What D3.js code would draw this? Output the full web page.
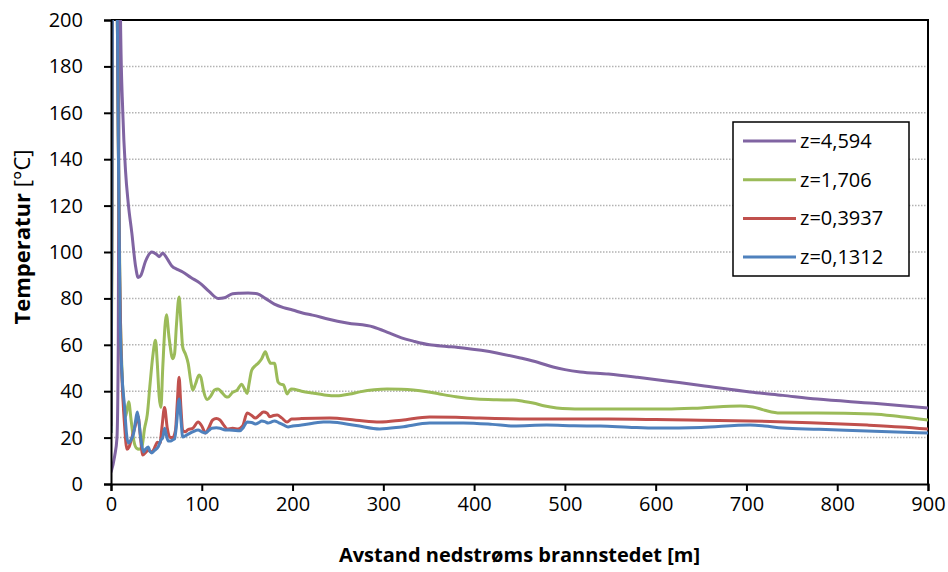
<!DOCTYPE html>
<html>
<head>
<meta charset="utf-8">
<script src="https://cdn.jsdelivr.net/npm/d3@7/dist/d3.min.js"></script>
<style>
  html, body { margin: 0; padding: 0; background: #fff; }
  svg { display: block; font-family: "Open Sans", "Liberation Sans", sans-serif; }
</style>
</head>
<body>
<svg id="chart" width="948" height="572"></svg>
<script>
// Temperature downstream of the fire site, at four heights z [m]
const seriesNames = ["z=4,594", "z=1,706", "z=0,3937", "z=0,1312"];
const seriesColors = ["#8064A2", "#9BBB59", "#C0504D", "#4F81BD"];

const xTicks = [0, 100, 200, 300, 400, 500, 600, 700, 800, 900];
const yTicks = [0, 20, 40, 60, 80, 100, 120, 140, 160, 180, 200];

// [distance m, temperature °C]
const tempZ4594 = [
  [0,5],[4,12],[6.6,20],[8,60],[9,200],[9.6,240],[10.5,200],[13,160],[16,135],[19,121],
  [23,108],[27,94],[30,89],[33,90],[38,96],[45,100],[50,99],[53,98],[57,99.5],[62,97],
  [67,94],[73,92.5],[79,91.4],[88,89],[98,86.6],[108,83],[118,80],[125,80.3],[134,82],
  [142,82.2],[151,82.3],[161,82],[170,80],[180,77.5],[190,76],[200,75],[212,73.6],
  [222,72.8],[240,71],[260,69.4],[289,67.7],[307,65],[320,63],[333,61.6],[351,60],
  [370,59.3],[388,58.6],[425,56.5],[451,54.3],[470,52.5],[487,50.4],[500,49.3],
  [517,48.3],[548,47.4],[580,46],[612,44.4],[650,42.5],[704,39.7],[740,38.2],
  [778,36.6],[840,34.8],[900,32.8]
];
const tempZ1706 = [
  [0,22],[1,100],[2,240],[6,240],[8,150],[10,80],[12,50],[14,34],[16,29],[19.5,35.5],
  [22,28],[25,19],[28,15.5],[31,15],[34,16],[37,24],[40,30],[43,43],[46,55],[49,62],
  [51,52],[53,38],[55,33],[57,50],[61,73],[64,63],[68,54],[70,56],[72,68],[75,80.6],
  [77,70],[79,59],[82,56],[85,52],[88,44],[90,40.5],[93,43],[97,47],[99,46],[102,40],
  [106,36.4],[110,38],[114,40.5],[118,41],[122,39.5],[126,37.8],[129,37.5],[134,39.5],
  [139,40.5],[144,43],[147,41],[150,39],[152,43],[155,49],[159,51],[162,52],[166,54],
  [170,57],[173,54],[176,52],[180,52],[184,44],[187,43],[190,42.7],[194,38.8],
  [197,40.5],[199,40.9],[210,40],[222,39.2],[235,38.4],[249,38],[263,38.8],[274,39.7],
  [290,40.6],[304,40.9],[320,40.8],[333,40.5],[348,39.8],[362,38.8],[380,37.6],
  [403,36.6],[425,36.3],[443,36.2],[455,35.6],[465,34.9],[478,33.6],[491,32.8],
  [505,32.4],[517,32.3],[548,32.3],[580,32.3],[612,32.3],[650,32.8],[693,33.6],
  [707,33.2],[720,31.8],[737,30.6],[778,30.6],[839,30.2],[870,29],[900,27.6]
];
const tempZ03937 = [
  [0,25],[1,120],[2,240],[6,240],[8,150],[9.5,90],[11,58],[13,38],[15,25],[17.6,15],
  [20,16],[23,20],[26,24],[28,27],[30,29],[32,22],[35,12.5],[38,13.5],[41,14.6],
  [44,13.8],[46,14.2],[49,16.5],[51,18],[54,17.6],[56,24],[59,33],[62,24],[65,20],
  [68,20],[71,23],[73,35],[75,46],[77,33],[79,23],[82,22.5],[85,23.5],[90,24],
  [96,26.7],[100,25],[104,22],[108,24.5],[112,27.6],[116,28.2],[120,27.6],[124,25.5],
  [128,23.7],[134,24],[140,23.7],[145,25],[150,30.6],[155,29.5],[159,28.4],[163,29.5],
  [168,31],[172,30.5],[175,29],[179,29.5],[183,29.7],[188,28.5],[194,26.7],[199,28],
  [210,28.2],[241,28.4],[270,27.5],[296,26.7],[320,27.5],[351,28.9],[380,28.8],
  [406,28.4],[462,28],[517,28],[548,28],[600,27.8],[650,27.5],[704,27.2],[770,26.4],
  [833,25.4],[870,24.6],[900,23.7]
];
const tempZ01312 = [
  [0,22],[1,120],[2,240],[6,240],[8,150],[10,72],[12,48],[15,33],[17,22],[19,17.7],
  [22,19],[25,22],[27,27],[29,31],[31,26],[33,19],[36,13.8],[38,15],[41,16],[43,14],
  [45,13.4],[48,14.5],[52,16],[55,19],[57,20],[59,24],[61,21],[63,18.5],[65,18.5],
  [68,19],[70,19.4],[72,25],[75,36.6],[77,28],[79,20.3],[85,21.5],[90,22.5],[96,23.3],
  [100,22.5],[104,22],[108,23.2],[111,24],[116,24.2],[120,24],[126,23.3],[134,23.2],
  [142,23],[146,24.5],[150,26.7],[155,26.5],[159,25.9],[163,26.5],[166,27.2],[170,26.8],
  [173,26.3],[177,26.8],[180,27.2],[185,26.4],[190,25.5],[195,24.6],[200,25],[210,25.4],
  [234,26.7],[241,26.7],[270,25.2],[296,23.7],[320,24.6],[351,26.3],[388,26.3],
  [420,25.7],[443,25],[480,25.4],[510,25.1],[539,25],[570,24.5],[601,24.1],[650,24.4],
  [704,25.4],[720,25],[740,24.1],[780,23.6],[833,22.8],[900,22]
];
const seriesValues = [tempZ4594, tempZ1706, tempZ03937, tempZ01312];

const svg = d3.select("#chart");
const W = 948, H = 572;
const margin = { top: 20, right: 20, bottom: 88, left: 111 };
const pw = W - margin.left - margin.right;
const ph = H - margin.top - margin.bottom;

const x = d3.scaleLinear().domain([0, 900]).range([0, pw]);
const y = d3.scaleLinear().domain([0, 200]).range([ph, 0]);

const g = svg.append("g").attr("transform", `translate(${margin.left},${margin.top})`);

svg.append("defs").append("clipPath").attr("id", "plotClip")
  .append("rect").attr("x", 0).attr("y", 0).attr("width", pw).attr("height", ph);

// dotted horizontal gridlines
g.append("g")
  .selectAll("line")
  .data(yTicks.filter(v => v > 0 && v < 200))
  .join("line")
  .attr("x1", 0).attr("x2", pw)
  .attr("y1", d => y(d)).attr("y2", d => y(d))
  .attr("stroke", "#b3b3b3")
  .attr("stroke-width", 1.5)
  .attr("stroke-dasharray", "1.5,1.5");

// plot frame (top and right)
g.append("path")
  .attr("d", `M0,${y(200)}H${pw}V${ph}`)
  .attr("fill", "none").attr("stroke", "#000").attr("stroke-width", 2);

// series lines
const line = d3.line()
  .x(d => x(d[0]))
  .y(d => y(d[1]))
  .curve(d3.curveMonotoneX);

g.append("g").attr("clip-path", "url(#plotClip)")
  .selectAll("path")
  .data(seriesValues)
  .join("path")
  .attr("d", d => line(d))
  .attr("fill", "none")
  .attr("stroke", (d, i) => seriesColors[i])
  .attr("stroke-width", 3)
  .attr("stroke-linejoin", "round");

// axes
const xAxis = d3.axisBottom(x).tickValues(xTicks).tickSize(7).tickPadding(6).tickFormat(d3.format("d"));
const yAxis = d3.axisLeft(y).tickValues(yTicks).tickSize(7).tickPadding(21).tickFormat(d3.format("d"));

const gx = g.append("g").attr("transform", `translate(0,${ph})`).call(xAxis);
const gy = g.append("g").call(yAxis);

[gx, gy].forEach(a => {
  a.select(".domain").attr("stroke", "#000").attr("stroke-width", 2);
  a.selectAll(".tick line").attr("stroke", "#000").attr("stroke-width", 2);
  a.selectAll(".tick text").attr("fill", "#000").style("font-size", "20px")
    .style("font-family", "'Open Sans', sans-serif");
});

// axis titles
svg.append("text")
  .attr("x", margin.left + pw / 2)
  .attr("y", 562)
  .attr("text-anchor", "middle")
  .style("font-size", "20px")
  .style("font-weight", "bold")
  .text("Avstand nedstrøms brannstedet [m]");

const yt = svg.append("text")
  .attr("transform", `translate(30,237) rotate(-90)`)
  .attr("text-anchor", "middle")
  .style("font-size", "22px");
yt.append("tspan").style("font-weight", "bold").text("Temperatur");
yt.append("tspan").text(" [°C]");

// legend
const lg = svg.append("g").attr("transform", "translate(733,122)");
lg.append("rect").attr("width", 176).attr("height", 154)
  .attr("fill", "#fff").attr("stroke", "#000").attr("stroke-width", 1.5);
const items = lg.selectAll("g.item").data(seriesNames).join("g")
  .attr("class", "item")
  .attr("transform", (d, i) => `translate(0,${19 + i * 38.7})`);
items.append("line").attr("x1", 10).attr("x2", 63).attr("y1", 0).attr("y2", 0)
  .attr("stroke", (d, i) => seriesColors[i]).attr("stroke-width", 3);
items.append("text").attr("x", 67).attr("y", 0).attr("dy", "0.35em")
  .style("font-size", "20px").text(d => d);
</script>
</body>
</html>
